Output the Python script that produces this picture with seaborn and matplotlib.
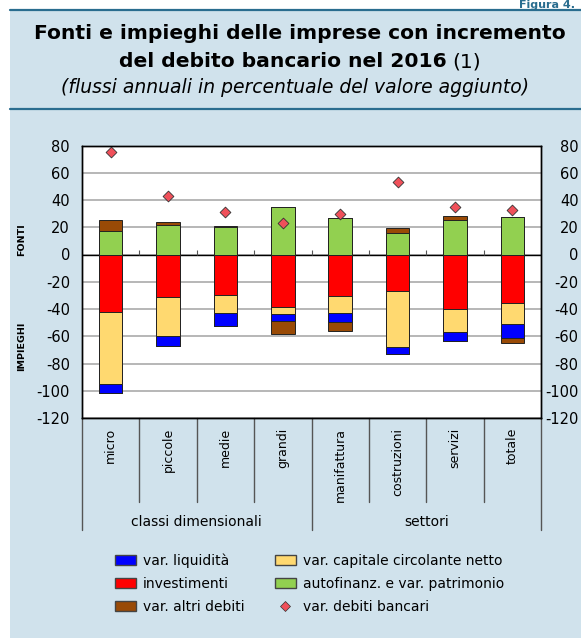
import matplotlib
matplotlib.use("Agg")
import matplotlib.pyplot as plt
import matplotlib.patches as mpatches
from matplotlib.lines import Line2D
import numpy as np
import pandas as pd
import seaborn as sns

# dati (flussi in % del valore aggiunto)
categories = ["micro", "piccole", "medie", "grandi",
              "manifattura", "costruzioni", "servizi", "totale"]
groups = ["classi dimensionali", "settori"]
group_sizes = [4, 4]

autofinanz = [17.6, 22.0, 20.0, 34.5, 26.5, 15.7, 25.5, 27.7]
altri_debiti = [8.0, 1.5, 0.6, -9.6, -7.1, 4.0, 3.0, -3.9]
investimenti = [-42.0, -31.0, -30.0, -38.2, -30.1, -26.5, -40.0, -35.6]
capitale_circ = [-53.0, -28.7, -13.3, -5.7, -12.5, -41.2, -16.6, -15.1]
liquidita = [-6.6, -7.6, -9.3, -4.6, -6.7, -5.4, -6.6, -10.3]
debiti_bancari = [75.4, 43.0, 31.3, 23.2, 29.9, 53.0, 34.8, 33.0]
yticks = list(range(-120, 81, 20))

BLUE = "#0000ff"
RED = "#ff0000"
YELLOW = "#ffd970"
GREEN = "#92d050"
BROWN = "#994a06"
DIAMOND = "#f0505a"
BG = "#d0e2ec"
TEAL = "#2a6d8f"

df = pd.DataFrame({"cat": categories, "verde": autofinanz, "altri": altri_debiti,
                   "inv": investimenti, "cap": capitale_circ, "liq": liquidita,
                   "banc": debiti_bancari})
altri_pos = df["altri"].clip(lower=0)
altri_neg = df["altri"].clip(upper=0)
# barre cumulate disegnate dalla piu' lunga alla piu' corta
df["l1"] = df["verde"] + altri_pos
df["l2"] = df["verde"]
df["l3"] = df["inv"] + df["cap"] + df["liq"] + altri_neg
df["l4"] = df["inv"] + df["cap"] + df["liq"]
df["l5"] = df["inv"] + df["cap"]
df["l6"] = df["inv"]

sns.set_style("white")
plt.rcParams["font.family"] = ["DejaVu Sans"]
plt.rcParams["text.color"] = "black"
plt.rcParams["xtick.color"] = "black"
plt.rcParams["ytick.color"] = "black"
plt.rcParams["axes.labelcolor"] = "black"

W, H = 581, 638
fig = plt.figure(figsize=(W / 100, H / 100), dpi=100, facecolor="white")

# sfondo azzurro e linee dell'intestazione
fig.patches.append(mpatches.Rectangle((10 / W, 0), 1, 1 - 9.5 / H, transform=fig.transFigure,
                                      facecolor=BG, edgecolor="none", zorder=-5))
for yy in [9.5, 109]:
    fig.lines.append(Line2D([10 / W, 1], [1 - yy / H, 1 - yy / H], transform=fig.transFigure,
                            color=TEAL, lw=1.6, zorder=-4))
fig.text(575 / W, 1 - 7.5 / H, "Figura 4.", color=TEAL, weight="bold", size=8,
         ha="right", va="baseline")

ax = fig.add_axes([82 / W, 1 - 418 / H, (541 - 82) / W, (418 - 145.5) / H])
ax.set_facecolor("white")

layers = [("l1", BROWN), ("l2", GREEN), ("l3", BROWN), ("l4", BLUE), ("l5", YELLOW), ("l6", RED)]
for col, c in layers:
    sns.barplot(data=df, x="cat", y=col, color=c, saturation=1, width=0.41, errorbar=None,
                edgecolor="#222222", linewidth=0.7, ax=ax, zorder=2)

sns.stripplot(data=df, x="cat", y="banc", jitter=False, marker="D", color=DIAMOND,
              edgecolor="#333333", linewidth=0.6, size=5.5, ax=ax, zorder=5)

ax.set_xlim(-0.5, len(categories) - 0.5)
ax.set_ylim(-120, 80)
ax.set_yticks(yticks)
ax.set_yticklabels([str(v) for v in yticks])
ax.set_axisbelow(True)
ax.yaxis.grid(True, color="#a3a3a3", lw=1.1)
ax.xaxis.grid(False)
ax.axhline(0, color="black", lw=1.0, zorder=1)
bounds = np.arange(len(categories) + 1) - 0.5
ax.vlines(bounds[1:-1], 0, 3, color="#555555", lw=0.8, zorder=1)
ax.set_xlabel("")
ax.set_ylabel("")
ax.set_xticks(range(len(categories)))
ax.set_xticklabels(categories, rotation=90, fontsize=9)
ax.tick_params(axis="x", length=0, pad=7)
ax.tick_params(axis="y", length=0, pad=8.6, labelsize=10.5)
for s in ax.spines.values():
    s.set_color("black")
    s.set_linewidth(1.0)
    s.set_visible(True)

ax2 = ax.twinx()
ax2.set_ylim(-120, 80)
ax2.set_yticks(yticks)
ax2.set_yticklabels([str(v) for v in yticks], ha="right")
ax2.tick_params(axis="y", length=0, pad=27, labelsize=10.5)
ax2.grid(False)
for s in ax2.spines.values():
    s.set_color("black")
    s.set_linewidth(1.0)

# separatori delle categorie e dei gruppi
trans = ax.get_xaxis_transform()
outer = [bounds[0]]
start = 0
for n in group_sizes:
    start += n
    outer.append(bounds[start])
for b in bounds:
    low = -0.411 if b in outer else -0.308
    ax.plot([b, b], [0, low], transform=trans, color="#555555", lw=1.0, clip_on=False)
start = 0
for g, n in zip(groups, group_sizes):
    ax.text(start + (n - 1) / 2, -0.381, g, transform=trans, ha="center", va="center", fontsize=10)
    start += n

fig.text(22 / W, 1 - 240 / H, "FONTI", rotation=90, weight="bold", size=6.8, ha="center", va="center")
fig.text(22 / W, 1 - 346 / H, "IMPIEGHI", rotation=90, weight="bold", size=6.8, ha="center", va="center")

# titolo
cx = 300
fig.text(cx / W, 1 - 39 / H, "Fonti e impieghi delle imprese con incremento",
         weight="bold", size=14.6, ha="center", va="baseline")
t_bold = fig.text(0, 1 - 67 / H, "del debito bancario nel 2016", weight="bold", size=14.6, va="baseline")
t_reg = fig.text(0, 1 - 67 / H, "(1)", size=14.6, va="baseline")
fig.text(295 / W, 1 - 93 / H, "(flussi annuali in percentuale del valore aggiunto)",
         style="italic", size=13.5, ha="center", va="baseline")
fig.canvas.draw()
r = fig.canvas.get_renderer()
w1 = t_bold.get_window_extent(r).width
w2 = t_reg.get_window_extent(r).width
gap = 5
x0 = cx - (w1 + gap + w2) / 2
t_bold.set_x(x0 / W)
t_reg.set_x((x0 + w1 + gap) / W)

handles = [
    mpatches.Patch(facecolor=BLUE, edgecolor="#444444", label="var. liquidità"),
    mpatches.Patch(facecolor=RED, edgecolor="#444444", label="investimenti"),
    mpatches.Patch(facecolor=BROWN, edgecolor="#444444", label="var. altri debiti"),
    mpatches.Patch(facecolor=YELLOW, edgecolor="#444444", label="var. capitale circolante netto"),
    mpatches.Patch(facecolor=GREEN, edgecolor="#444444", label="autofinanz. e var. patrimonio"),
    Line2D([], [], marker="D", color="none", markerfacecolor=DIAMOND, markeredgecolor="#333333",
           markeredgewidth=0.5, markersize=5, label="var. debiti bancari"),
]
fig.legend(handles=handles, ncol=2, loc="upper left", bbox_to_anchor=(115 / W, 1 - 553 / H),
           frameon=False, fontsize=10, handlelength=1.5, handletextpad=0.5, columnspacing=2.2,
           labelspacing=0.65, borderpad=0, borderaxespad=0)

fig.savefig("out.png", dpi=100, facecolor=fig.get_facecolor())
